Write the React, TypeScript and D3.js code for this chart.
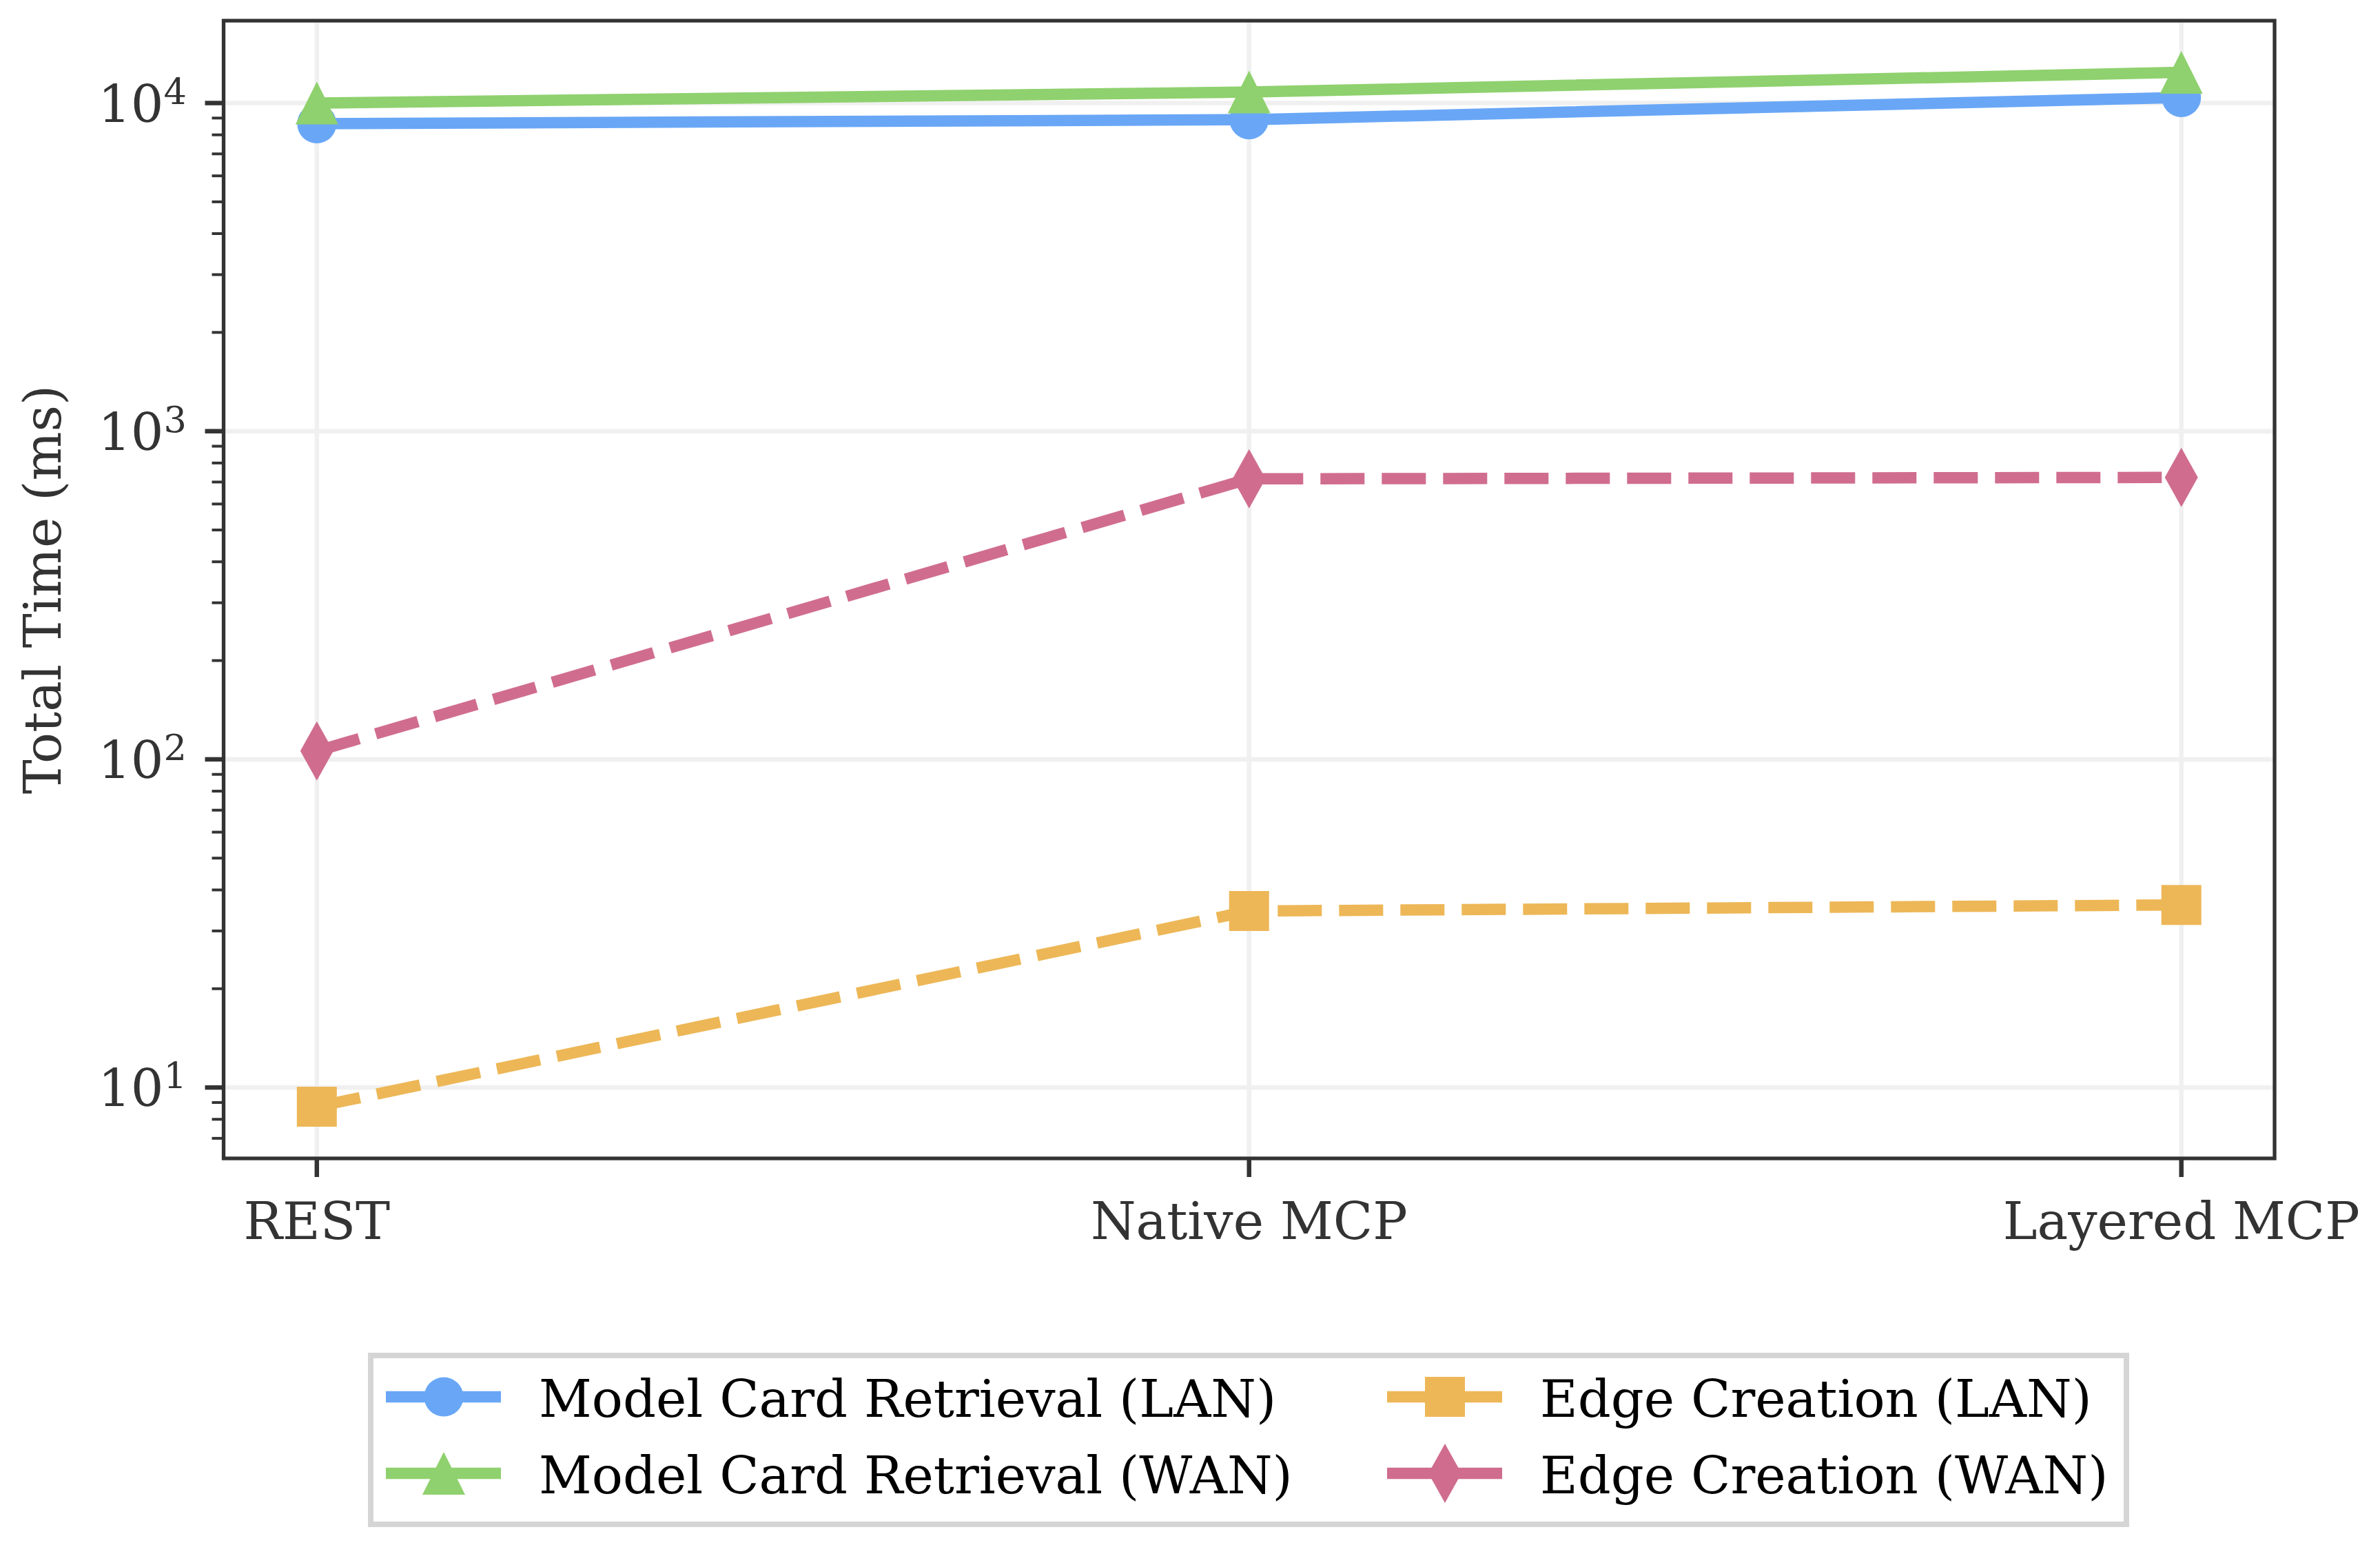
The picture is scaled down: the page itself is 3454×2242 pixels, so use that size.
import React from 'react';
import * as d3 from 'd3';

// values (ms, log axis)
const categories = ['REST', 'Native MCP', 'Layered MCP'];
const modelCardLan = [8650, 8900, 10400];
const modelCardWan = [10000, 10800, 12400];
const edgeCreationLan = [8.74, 34.5, 36.0];
const edgeCreationWan = [106, 716, 723];
const seriesLabels = [
  'Model Card Retrieval (LAN)',
  'Model Card Retrieval (WAN)',
  'Edge Creation (LAN)',
  'Edge Creation (WAN)',
];
const yMajorExponents = [1, 2, 3, 4];
const yMinorMultipliers = [2, 3, 4, 5, 6, 7, 8, 9];

const W = 3454;
const H = 2242;
const plot = { left: 324.5, right: 3301, top: 30, bottom: 1681 };
const FONT = '"DejaVu Serif", serif';
const INK = '#333333';
const FS = 75;
const LW = 16.5;

type Shape = 'circle' | 'triangle' | 'square' | 'diamond';

const styles: { color: string; shape: Shape; dashed: boolean }[] = [
  { color: '#69a7f6', shape: 'circle', dashed: false },
  { color: '#8fd16e', shape: 'triangle', dashed: false },
  { color: '#edb757', shape: 'square', dashed: true },
  { color: '#d06d8f', shape: 'diamond', dashed: true },
];

const series = [modelCardLan, modelCardWan, edgeCreationLan, edgeCreationWan].map((values, i) => ({
  label: seriesLabels[i],
  values,
  ...styles[i],
}));

function markerPath(shape: Shape) {
  switch (shape) {
    case 'circle':
      return 'M28.5,0A28.5,28.5 0 1,1 -28.5,0A28.5,28.5 0 1,1 28.5,0Z';
    case 'triangle':
      return 'M0,-31L31,31L-31,31Z';
    case 'square':
      return 'M-29,-29L29,-29L29,29L-29,29Z';
    case 'diamond':
      return 'M0,-43L24,0L0,43L-24,0Z';
  }
}

export default function App() {
  const all = series.flatMap(s => s.values.map(v => Math.log10(v)));
  const lo = d3.min(all)!;
  const hi = d3.max(all)!;
  const pad = (hi - lo) * 0.05;

  const x = d3.scaleLinear().domain([-0.1, categories.length - 1 + 0.1]).range([plot.left, plot.right]);
  const y = d3.scaleLog().domain([10 ** (lo - pad), 10 ** (hi + pad)]).range([plot.bottom, plot.top]);
  const [yMin, yMax] = y.domain();

  const majors = yMajorExponents.map(e => 10 ** e).filter(v => v >= yMin && v <= yMax);
  const minors: number[] = [];
  for (let e = Math.floor(Math.log10(yMin)); e <= Math.ceil(Math.log10(yMax)); e++) {
    yMinorMultipliers.forEach(m => {
      const v = m * 10 ** e;
      if (v >= yMin && v <= yMax) minors.push(v);
    });
  }

  const line = d3.line<number>()
    .x((_, i) => x(i))
    .y(d => y(d));

  // legend layout (matplotlib: 2 columns, column-major order)
  const legendBox = { left: 538, right: 3086, top: 1967, bottom: 2212 };
  const legendCols = [644, 2097];
  const legendRows = [2027, 2138];
  const midY = (plot.top + plot.bottom) / 2;

  return (
    <svg width={W} height={H} style={{ position: 'absolute', left: 0, top: 0, display: 'block', background: '#fff' }}
      fontFamily={FONT}>
      <rect x={0} y={0} width={W} height={H} fill="#ffffff" />

      {/* grid */}
      <g stroke="#f0f0f0" strokeWidth={6.5}>
        {majors.map(v => (
          <line key={'gy' + v} x1={plot.left} x2={plot.right} y1={y(v)} y2={y(v)} />
        ))}
        {categories.map((c, i) => (
          <line key={'gx' + c} x1={x(i)} x2={x(i)} y1={plot.top} y2={plot.bottom} />
        ))}
      </g>

      {/* series */}
      {series.map(s => (
        <g key={s.label}>
          <path d={line(s.values) || ''} fill="none" stroke={s.color} strokeWidth={LW}
            strokeLinejoin="round" strokeLinecap={s.dashed ? 'butt' : 'square'}
            strokeDasharray={s.dashed ? '64 25' : undefined} />
          {s.values.map((v, i) => (
            <path key={i} d={markerPath(s.shape)} transform={`translate(${x(i)},${y(v)})`} fill={s.color} />
          ))}
        </g>
      ))}

      {/* spines */}
      <rect x={plot.left} y={plot.top} width={plot.right - plot.left} height={plot.bottom - plot.top}
        fill="none" stroke={INK} strokeWidth={5.3} />

      {/* ticks */}
      <g stroke={INK}>
        {majors.map(v => (
          <line key={'ty' + v} x1={plot.left - 27} x2={plot.left} y1={y(v)} y2={y(v)} strokeWidth={6.5} />
        ))}
        {minors.map(v => (
          <line key={'tm' + v} x1={plot.left - 17} x2={plot.left} y1={y(v)} y2={y(v)} strokeWidth={4} />
        ))}
        {categories.map((c, i) => (
          <line key={'tx' + c} x1={x(i)} x2={x(i)} y1={plot.bottom} y2={plot.bottom + 27} strokeWidth={6.5} />
        ))}
      </g>

      {/* y tick labels */}
      {majors.map(v => (
        <text key={'ly' + v} x={271} y={y(v) + 27} textAnchor="end" fontSize={FS} fill={INK}>
          <tspan>10</tspan>
          <tspan dy={-26} fontSize={FS * 0.7}>{Math.round(Math.log10(v))}</tspan>
        </text>
      ))}

      {/* x tick labels */}
      {categories.map((c, i) => (
        <text key={'lx' + c} x={x(i)} y={1798} textAnchor="middle" fontSize={FS} fill={INK}>{c}</text>
      ))}

      {/* y axis label */}
      <text x={88} y={midY} transform={`rotate(-90, 88, ${midY})`}
        textAnchor="middle" fontSize={FS} fill={INK}>Total Time (ms)</text>

      {/* legend */}
      <rect x={legendBox.left} y={legendBox.top} width={legendBox.right - legendBox.left}
        height={legendBox.bottom - legendBox.top} fill="#ffffff" stroke="#d5d5d5" strokeWidth={8} />
      {series.map((s, i) => {
        const cx = legendCols[Math.floor(i / 2)];
        const cy = legendRows[i % 2];
        return (
          <g key={'lg' + s.label}>
            <line x1={cx - 84} x2={cx + 83} y1={cy} y2={cy} stroke={s.color} strokeWidth={LW} />
            <path d={markerPath(s.shape)} transform={`translate(${cx},${cy})`} fill={s.color} />
            <text x={cx + 138} y={cy + 29} fontSize={FS} fill="#000000">{s.label}</text>
          </g>
        );
      })}
    </svg>
  );
}
